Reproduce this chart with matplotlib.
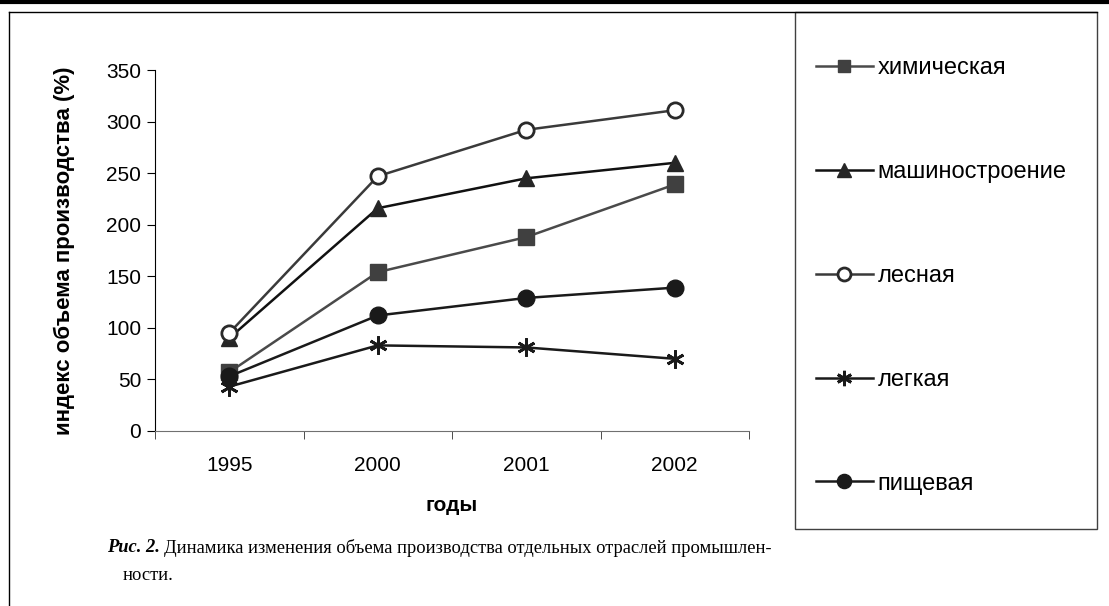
import matplotlib
matplotlib.use("Agg")
import matplotlib.pyplot as plt
from matplotlib.lines import Line2D
from matplotlib.patches import Rectangle

years = ["1995", "2000", "2001", "2002"]
himicheskaya = [57, 154, 188, 239]
mashinostroenie = [90, 216, 245, 260]
lesnaya = [95, 247, 292, 311]
legkaya = [43, 83, 81, 70]
pishchevaya = [53, 112, 129, 139]
yticks = [0, 50, 100, 150, 200, 250, 300, 350]

W, H = 1109, 606
fig = plt.figure(figsize=(W / 100, H / 100), dpi=100)
plt.rcParams['font.family'] = ['Liberation Sans', 'DejaVu Sans']

def fx(px):
    return px / W

def fy(py):
    return 1 - py / H

# frame lines
fig.add_artist(Line2D([0, 1], [fy(1.5), fy(1.5)], color='black', lw=3, transform=fig.transFigure))
fig.add_artist(Line2D([fx(9), fx(1097)], [fy(12), fy(12)], color='black', lw=1, transform=fig.transFigure))
fig.add_artist(Line2D([fx(9), fx(9)], [fy(12), 0], color='black', lw=1, transform=fig.transFigure))
fig.add_artist(Rectangle((fx(795), fy(529)), fx(1097) - fx(795), fy(12) - fy(529),
                         fill=False, edgecolor='#404040', lw=1, transform=fig.transFigure))

ax = fig.add_axes([fx(155), fy(431), fx(749) - fx(155), fy(70) - fy(431)])
x = list(range(len(years)))
series = [
    ("химическая", himicheskaya, dict(color='#4a4a4a', marker='s', mfc='#404040', mec='#404040', ms=11)),
    ("машиностроение", mashinostroenie, dict(color='#111111', marker='^', mfc='#262626', mec='#262626', ms=12)),
    ("лесная", lesnaya, dict(color='#3a3a3a', marker='o', mfc='white', mec='#2a2a2a', ms=11, mew=2)),
    ("легкая", legkaya, dict(color='#1a1a1a', marker=(6, 2, 0), mec='#1a1a1a', ms=13, mew=2)),
    ("пищевая", pishchevaya, dict(color='#1a1a1a', marker='o', mfc='#1a1a1a', mec='#1a1a1a', ms=12)),
]
handles = []
for name, vals, st in series:
    h, = ax.plot(x, vals, lw=1.8, label=name, **st)
    handles.append(h)

ax.set_xlim(-0.5, 3.5)
ax.set_ylim(0, 350)
ax.set_yticks(yticks)
ax.set_xticks(x)
ax.set_xticklabels(years)
ax.set_xticks([-0.5, 0.5, 1.5, 2.5, 3.5], minor=True)
ax.tick_params(axis='x', which='major', length=0, pad=18, labelsize=15)
ax.tick_params(axis='x', which='minor', length=6, direction='out', color='#303030')
ax.tick_params(axis='y', length=6, direction='out', labelsize=15, pad=4)
for s in ['top', 'right']:
    ax.spines[s].set_visible(False)
ax.spines['bottom'].set_color('#707070')
ax.spines['left'].set_color('black')
ax.patch.set_alpha(0)

ax.set_ylabel("индекс объема производства (%)", fontsize=16, fontweight='bold', labelpad=22)
ax.set_xlabel("годы", fontsize=15, fontweight='bold', labelpad=15)

leg = fig.legend(handles=handles, loc='upper left', bbox_to_anchor=(fx(816), fy(57)),
                 frameon=False, fontsize=17, labelspacing=3.47, handlelength=2.4,
                 handletextpad=0.2, borderpad=0, borderaxespad=0, markerscale=0.85)

# caption
fig.canvas.draw()
r = fig.canvas.get_renderer()
t1 = fig.text(fx(107), fy(548), "Рис. 2.", family=['Liberation Serif'], fontsize=13.3,
              fontweight='bold', fontstyle='italic', va='center', ha='left')
bb = t1.get_window_extent(renderer=r)
fig.text(bb.x1 / W + fx(4), fy(548),
         "Динамика изменения объема производства отдельных отраслей промышлен-",
         family=['Liberation Serif'], fontsize=13.3, va='center', ha='left')
fig.text(fx(123), fy(575), "ности.", family=['Liberation Serif'], fontsize=13.3, va='center', ha='left')

fig.savefig("out.png", dpi=100)
